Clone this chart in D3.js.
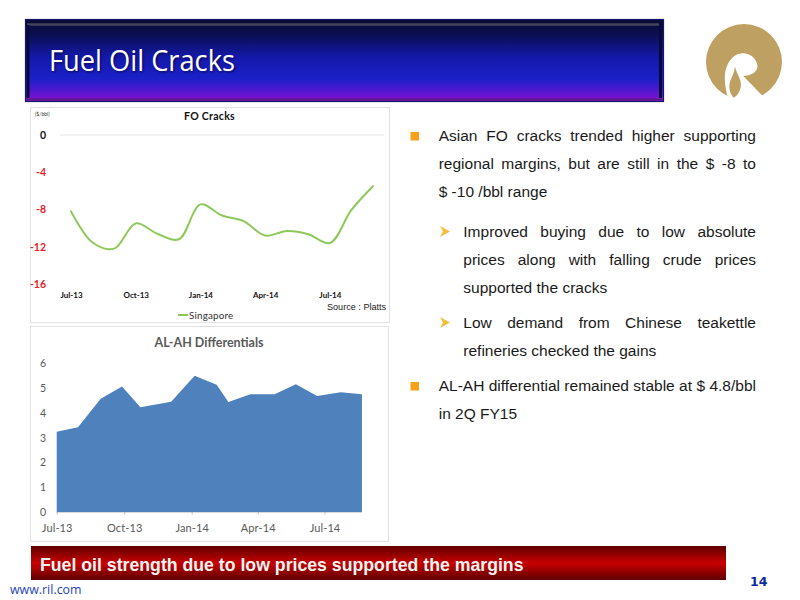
<!DOCTYPE html>
<html><head><meta charset="utf-8">
<script src="https://cdn.jsdelivr.net/npm/d3@7"></script>
<style>html,body{margin:0;padding:0;background:#fff}svg{display:block}</style>
</head><body><svg id="c" width="800" height="600"></svg>
<script>
const crackMonths=["Jul-13","Aug-13","Sep-13","Oct-13","Nov-13","Dec-13","Jan-14","Feb-14","Mar-14","Apr-14","May-14","Jun-14","Jul-14","Aug-14","Sep-14"];
const crackValues=[-8.2,-11.55,-12.2,-9.5,-10.6,-11.2,-7.45,-8.65,-9.25,-10.8,-10.3,-10.65,-11.6,-8.05,-5.5];
const crackTicks=[0,-4,-8,-12,-16];
const crackLabels=["Jul-13","Oct-13","Jan-14","Apr-14","Jul-14"];
const diffDates=["2013-07-01","2013-07-30","2013-08-30","2013-09-28","2013-10-23","2013-12-04","2014-01-05","2014-02-04","2014-02-20","2014-03-22","2014-04-24","2014-05-23","2014-06-21","2014-07-23","2014-08-21"];
const diffValues=[3.24,3.42,4.57,5.06,4.23,4.45,5.5,5.13,4.44,4.75,4.75,5.15,4.68,4.83,4.75];
const diffTicks=[0,1,2,3,4,5,6];
const diffLabelDates=["2013-07-01","2013-10-01","2014-01-01","2014-04-01","2014-07-01"];
const bodyLines=[
 {t:"Asian FO cracks trended higher supporting",x:438.7,y:141,j:1,b:"s"},
 {t:"regional margins, but are still in the $ -8 to",x:438.7,y:169,j:1},
 {t:"$ -10 /bbl range",x:438.7,y:197},
 {t:"Improved buying due to low absolute",x:463.3,y:237,j:1,b:"a"},
 {t:"prices along with falling crude prices",x:463.3,y:265,j:1},
 {t:"supported the cracks",x:463.3,y:293},
 {t:"Low demand from Chinese teakettle",x:463.3,y:328,j:1,b:"a"},
 {t:"refineries checked the gains",x:463.3,y:356},
 {t:"AL-AH differential remained stable at $ 4.8/bbl",x:438.7,y:391,j:1,b:"s"},
 {t:"in 2Q FY15",x:438.7,y:419}
];
const svg=d3.select("#c"),defs=svg.append("defs");
function grad(id,stops){const g=defs.append("linearGradient").attr("id",id).attr("x1",0).attr("x2",0).attr("y1",0).attr("y2",1);
 stops.forEach(s=>g.append("stop").attr("offset",s[0]).attr("stop-color",s[1]));}
grad("hdr",[[0,"#0a0a30"],[.2,"#0b0f55"],[.45,"#1418a8"],[.72,"#1b20c8"],[.85,"#4a18d0"],[1,"#8a10d0"]]);
grad("red",[[0,"#5e0000"],[.5,"#c80000"],[1,"#5e0000"]]);
const f=defs.append("filter").attr("id","blur").attr("x","-5%").attr("y","-10%").attr("width","110%").attr("height","120%");
f.append("feGaussianBlur").attr("stdDeviation",0.9);

// header
svg.append("rect").attr("x",25.5).attr("y",19.5).attr("width",638).attr("height",82).attr("fill","url(#hdr)").attr("stroke","#15156e").attr("stroke-width",1.2);
svg.append("path").attr("d","M27 24.5H659").attr("stroke","#44445c").attr("stroke-width",2.4).attr("fill","none");
svg.append("path").attr("d","M27 99.5H662").attr("stroke","#5a1a80").attr("stroke-width",2).attr("fill","none");
svg.append("path").attr("d","M660.5 25V98").attr("stroke","#08083a").attr("stroke-width",3).attr("fill","none");
svg.append("path").attr("d","M28 25V98").attr("stroke","#08083a").attr("stroke-width",3).attr("fill","none");
svg.append("text").attr("x",50).attr("y",72).attr("font-family","Open Sans").attr("font-size",29).attr("fill","#0a0a50").attr("filter","url(#blur)").attr("textLength",186).attr("lengthAdjust","spacingAndGlyphs").text("Fuel Oil Cracks");
svg.append("text").attr("x",49).attr("y",71).attr("font-family","Open Sans").attr("font-size",29).attr("fill","#fff").attr("textLength",186).attr("lengthAdjust","spacingAndGlyphs").text("Fuel Oil Cracks");

// logo
const logo=svg.append("g").attr("transform","translate(680,10) scale(0.3333)");
logo.append("circle").attr("cx",192).attr("cy",156).attr("r",114).attr("fill","#bfa063");
logo.append("path").attr("fill","#fff").attr("d","M148 275C130 225 126 170 160 140C185 120 225 130 232 165C235 185 215 197 190 198L240 250C250 262 262 264 275 252L280 285L148 285Z");
logo.append("path").attr("fill","#bfa063").attr("d","M165 170C172 198 190 212 180 240C175 252 168 260 161 263C150 250 145 235 150 215C155 200 162 192 165 170Z");

// panels
[[30,107,359,215],[30,326,358,215]].forEach(p=>svg.append("rect").attr("x",p[0]+.5).attr("y",p[1]+.5).attr("width",p[2]).attr("height",p[3]).attr("fill","#fff").attr("stroke","#e2e2e2").attr("stroke-width",1));

// FO cracks chart
const x1=d3.scalePoint().domain(crackMonths).range([71,373]);
const y1=d3.scaleLinear().domain([-16,0]).range([284,135]);
svg.append("line").attr("x1",60).attr("x2",384).attr("y1",y1(0)).attr("y2",y1(0)).attr("stroke","#e4e4e4");
const ax1=svg.append("g").attr("transform","translate(50,0)").call(d3.axisLeft(y1).tickValues(crackTicks).tickSize(0).tickFormat(d=>String(d)));
ax1.select(".domain").remove();
ax1.selectAll("text").attr("x",-4).attr("font-family","Lato").attr("font-weight",700).attr("font-size",10.5).attr("fill",d=>d<0?"#e8202a":"#111");
const ax1b=svg.append("g").attr("transform","translate(0,289)").call(d3.axisBottom(x1).tickValues(crackLabels).tickSize(0));
ax1b.select(".domain").remove();
ax1b.selectAll("text").attr("font-family","Lato").attr("font-weight",700).attr("font-size",8).attr("fill","#111");
svg.append("path").datum(crackValues).attr("fill","none").attr("stroke","#8dc959").attr("stroke-width",2).attr("stroke-linecap","round")
 .attr("d",d3.line().x((d,i)=>x1(crackMonths[i])).y(d=>y1(d)).curve(d3.curveCatmullRom.alpha(.5)));
svg.append("text").attr("x",209.5).attr("y",120).attr("text-anchor","middle").attr("font-family","Lato").attr("font-weight",700).attr("font-size",10.5).attr("letter-spacing",.3).attr("fill","#111").text("FO Cracks");
svg.append("text").attr("x",35).attr("y",116).attr("font-family","Lato").attr("font-size",5).attr("fill","#333").text("($/bbl)");
svg.append("text").attr("x",327).attr("y",310).attr("font-family","Liberation Sans").attr("font-size",9.1).attr("fill","#222").text("Source : Platts");
svg.append("line").attr("x1",178).attr("x2",188).attr("y1",315).attr("y2",315).attr("stroke","#8dc959").attr("stroke-width",2);
svg.append("text").attr("x",189).attr("y",318.5).attr("font-family","Lato").attr("font-size",9.8).attr("letter-spacing",.2).attr("fill","#333").text("Singapore");

// AL-AH chart
const parse=d3.utcParse("%Y-%m-%d"),dates=diffDates.map(parse);
const x2=d3.scaleUtc().domain([parse("2013-07-01"),parse("2014-07-01")]).range([56.7,324.5]);
const y2=d3.scaleLinear().domain([0,6]).range([512,363.3]);
svg.append("path").datum(diffValues).attr("fill","#4f81bd")
 .attr("d",d3.area().x((d,i)=>x2(dates[i])).y0(y2(0)).y1(d=>y2(d)));
const ax2=svg.append("g").attr("transform","translate(51,0)").call(d3.axisLeft(y2).tickValues(diffTicks).tickSize(0).tickFormat(d3.format("d")));
ax2.select(".domain").remove();
ax2.selectAll("text").attr("x",-5).attr("font-family","Lato").attr("font-size",10.5).attr("fill","#595959");
const ax2b=svg.append("g").attr("transform","translate(0,512)").call(d3.axisBottom(x2).tickValues(diffLabelDates.map(parse)).tickSize(2.5).tickPadding(9.5).tickFormat(d3.utcFormat("%b-%y")));
ax2b.select(".domain").attr("d","M56.7 0.5H362").attr("stroke","#d9d9d9");
ax2b.selectAll("line").attr("stroke","#bbb");
ax2b.selectAll("text").attr("font-family","Lato").attr("font-size",11).attr("letter-spacing",.1).attr("fill","#595959");
svg.append("text").attr("x",209).attr("y",347).attr("text-anchor","middle").attr("font-family","Lato").attr("font-weight",700).attr("font-size",12.5).attr("fill","#595959").text("AL-AH Differentials");

// body text
const tx=svg.append("g").attr("font-family","Liberation Sans").attr("font-size",15.5).attr("fill","#1a1a1a");
tx.selectAll("text").data(bodyLines).join("text").attr("x",d=>d.x).attr("y",d=>d.y).text(d=>d.t).each(function(d){
 if(!d.j)return;const n=d.t.split(" ").length-1;const w=this.getComputedTextLength();
 d3.select(this).attr("word-spacing",(756-d.x-w)/n);});
svg.selectAll("rect.bs").data(bodyLines.filter(d=>d.b=="s")).join("rect").attr("class","bs").attr("x",410.5).attr("y",d=>d.y-9).attr("width",8.5).attr("height",8.5).attr("fill","#f7a11a");
svg.selectAll("path.ba").data(bodyLines.filter(d=>d.b=="a")).join("path").attr("class","ba").attr("fill","#f5bd3c")
 .attr("transform",d=>`translate(440,${d.y-11})`).attr("d","M0 0L10 5.5L0 11L3 5.5Z");

// footer
svg.append("rect").attr("x",31).attr("y",546).attr("width",695).attr("height",34).attr("fill","url(#red)");
svg.append("text").attr("x",40).attr("y",570.5).attr("font-family","Liberation Sans").attr("font-weight",700).attr("font-size",17.7).attr("fill","#f4f4f4").text("Fuel oil strength due to low prices supported the margins");
svg.append("text").attr("x",10).attr("y",594).attr("font-family","Open Sans").attr("font-size",12.4).attr("fill","#1f3fc0").text("www.ril.com");
svg.append("text").attr("x",750).attr("y",586).attr("font-family","DejaVu Sans").attr("font-weight",700).attr("font-size",12.5).attr("fill","#0a2aa0").text("14");
</script></body></html>
